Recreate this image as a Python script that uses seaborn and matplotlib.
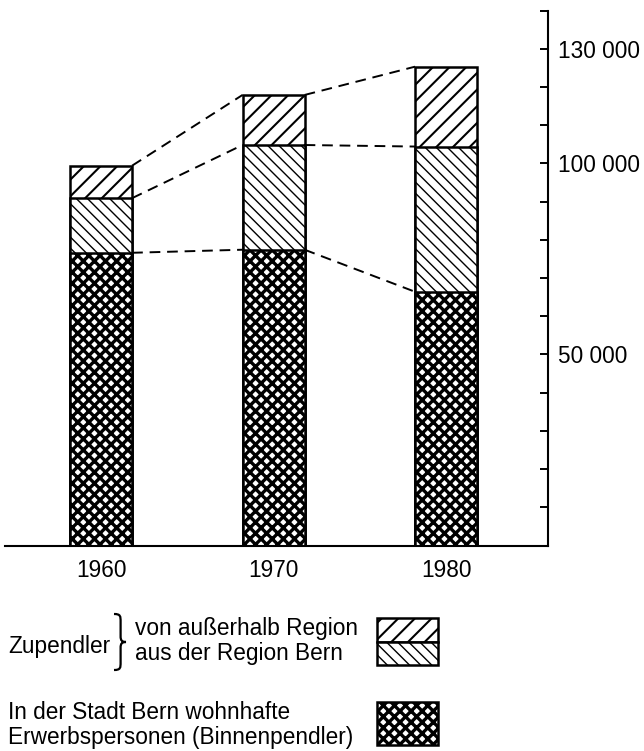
import matplotlib
matplotlib.use("Agg")
import matplotlib.pyplot as plt
import seaborn as sns
from matplotlib.patches import Rectangle, PathPatch
from matplotlib.path import Path
from matplotlib.transforms import Affine2D

# Data (Erwerbspersonen in der Stadt Bern)
years = ["1960", "1970", "1980"]
binnenpendler = [76600, 77400, 66400]      # wohnhaft in der Stadt Bern
aus_region = [14300, 27400, 38000]         # Zupendler aus der Region Bern
ausserhalb = [8500, 13100, 20900]          # Zupendler von ausserhalb Region

y_ticks = list(range(10000, 140001, 10000))
labelled_ticks = [50000, 100000, 130000]

W, H = 644, 751
BAR_W = 0.36
FS = 16.3

HATCH_TOP = ("//", 1.5)
HATCH_MID = ("\\\\\\", 1.0)
HATCH_BASE = ("xxx", 2.4)


def fx(px):
    return px / W


def fy(py):
    return 1 - py / H


def set_hatch_lw(patches, lw):
    for p in patches:
        if hasattr(p, "set_hatch_linewidth"):
            p.set_hatch_linewidth(lw)


sns.set_theme(style="white")
plt.rcParams["font.family"] = ["Liberation Sans", "DejaVu Sans"]
plt.rcParams["hatch.color"] = "black"

fig = plt.figure(figsize=(W / 100, H / 100), dpi=100)
ax = fig.add_axes([fx(5), fy(545.5), fx(548) - fx(5), fy(10.5) - fy(545.5)])

mid = [b + r for b, r in zip(binnenpendler, aus_region)]
total = [m + a for m, a in zip(mid, ausserhalb)]

# stacked look: draw cumulative bars from tallest to shortest
layers = [(total, HATCH_TOP), (mid, HATCH_MID), (binnenpendler, HATCH_BASE)]
for values, (hatch, hlw) in layers:
    plt.rcParams["hatch.linewidth"] = hlw
    n_before = len(ax.patches)
    sns.barplot(x=years, y=values, ax=ax, color="white", saturation=1,
                edgecolor="black", linewidth=1.8, width=BAR_W, hatch=hatch)
    set_hatch_lw(ax.patches[n_before:], hlw)

# dashed connectors between bar levels
for level in [binnenpendler, mid, total]:
    for i in range(len(years) - 1):
        ax.plot([i + BAR_W / 2, i + 1 - BAR_W / 2], [level[i], level[i + 1]],
                color="black", lw=1.4, linestyle="--", dashes=(5.5, 3.5))

ax.set_xlim(-0.557, 2.591)
ax.set_ylim(0, 140000)
ax.set_xlabel("")
ax.set_ylabel("")

ax.yaxis.tick_right()
ax.set_yticks(y_ticks)
ax.set_yticklabels([f"{t:,}".replace(",", " ") if t in labelled_ticks else "" for t in y_ticks])
ax.tick_params(axis="y", direction="in", length=5.5, width=1.4, labelsize=FS,
               pad=7, colors="black", right=True, left=False)
ax.tick_params(axis="x", length=0, labelsize=FS, pad=10, colors="black")

for side in ["left", "top"]:
    ax.spines[side].set_visible(False)
for side in ["right", "bottom"]:
    ax.spines[side].set_visible(True)
    ax.spines[side].set_color("black")
    ax.spines[side].set_linewidth(1.5)

# legend (drawn by hand like the original)
txt = dict(fontsize=FS, color="black", va="baseline", ha="left")
fig.text(fx(8), fy(653), "Zupendler", **txt)
fig.text(fx(135), fy(635), "von außerhalb Region", **txt)
fig.text(fx(135), fy(660), "aus der Region Bern", **txt)
fig.text(fx(8), fy(719), "In der Stadt Bern wohnhafte", **txt)
fig.text(fx(8), fy(744), "Erwerbspersonen (Binnenpendler)", **txt)

# curly brace
brace = Path(
    [(0, 1), (0.55, 1), (0.55, 0.96), (0.55, 0.86), (0.55, 0.6),
     (0.55, 0.53), (0.65, 0.5), (1, 0.5),
     (0.65, 0.5), (0.55, 0.47), (0.55, 0.4), (0.55, 0.14),
     (0.55, 0.04), (0.55, 0), (0, 0)],
    [Path.MOVETO, Path.CURVE4, Path.CURVE4, Path.CURVE4, Path.LINETO,
     Path.CURVE4, Path.CURVE4, Path.CURVE4,
     Path.CURVE4, Path.CURVE4, Path.CURVE4, Path.LINETO,
     Path.CURVE4, Path.CURVE4, Path.CURVE4])
tr = Affine2D().scale(fx(12), fy(614) - fy(670)).translate(fx(114), fy(670)) + fig.transFigure
fig.add_artist(PathPatch(brace, transform=tr, facecolor="none", edgecolor="black", lw=1.6))

swatches = [((377, 618, 438, 642), HATCH_TOP),
            ((377, 642, 438, 665), HATCH_MID),
            ((377, 702, 438, 745), HATCH_BASE)]
for (x0, y0, x1, y1), (hatch, hlw) in swatches:
    plt.rcParams["hatch.linewidth"] = hlw
    r = Rectangle((fx(x0), fy(y1)), fx(x1) - fx(x0), fy(y0) - fy(y1),
                  transform=fig.transFigure, facecolor="white", edgecolor="black",
                  lw=1.8, hatch=hatch)
    set_hatch_lw([r], hlw)
    fig.add_artist(r)

fig.savefig("out.png", dpi=100, facecolor="white")
